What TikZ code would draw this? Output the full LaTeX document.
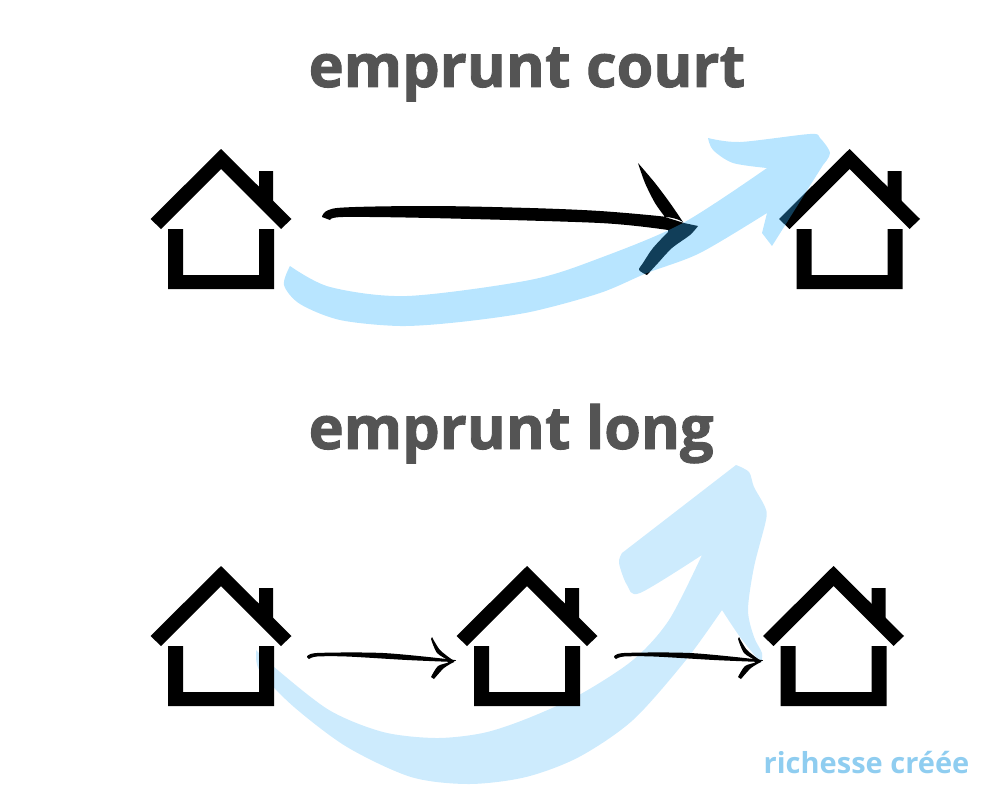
\documentclass[tikz,border=0pt]{standalone}
\usepackage{fontspec}
\setmainfont{Open Sans}
\newfontfamily\heavyfont[BoldFeatures={FakeBold=1.6}]{Open Sans}
\definecolor{titlegray}{HTML}{545454}
\definecolor{skyink}{RGB}{51,180,255}
\definecolor{palesky}{HTML}{CDEBFD}
\definecolor{labelsky}{HTML}{8FCDF0}
\tikzset{
  house/.pic={
    \fill (-70.5,70) -- (0,0) -- (70.5,70) -- (60,80) -- (0,20) -- (-60,80) -- cycle;
    \fill (38,22) -- (52,22) -- (52,62) -- (38,48) -- cycle;
    \fill (-53,80) -- (-38,80) -- (-38,126) -- (38,126) -- (38,80) -- (53,80) -- (53,140) -- (-53,140) -- cycle;
  },
  thinarrow/.pic={
    \fill plot [smooth] coordinates {(0,0) (10,-4) (76,-4) (144,2.5) (147,4)}
       -- plot [smooth] coordinates {(147,5) (100,3) (40,-.5) (10,-.5) (2,2)} -- cycle;
    \fill plot [smooth] coordinates {(125,-20) (133,-7) (147,4)}
       -- plot [smooth] coordinates {(147,5) (137,11) (127,22)}
       -- plot [smooth] coordinates {(124,20) (131,9) (142,4.5) (130,-4) (124,-18)} -- cycle;
  },
  titletext/.style={anchor=base west,inner sep=0pt,text=titlegray,font=\fontsize{16.9}{20}\heavyfont\bfseries},
  gaintext/.style={anchor=base west,inner sep=0pt,text=labelsky,font=\fontsize{8.25}{10}\bfseries}
}

\begin{document}
\begin{tikzpicture}[x=0.01cm,y=-0.01cm]
\useasboundingbox (0,0) rectangle (1000,800);
\coordinate (H1) at (221,149);
\coordinate (H2) at (849.5,149);
\coordinate (H3) at (221,566);
\coordinate (H4) at (527,566);
\coordinate (H5) at (833.5,566);

% Pale sweep behind the lower row
\fill [palesky] plot [smooth] coordinates {(256,650) (274,667) (329,710) (383,732) (436,738) (483,733) (526,719) (579,695) (633,660) (669,620) (702,555)}
   -- plot [smooth] coordinates {(702,555) (640,593) (627,585) (619,563) (622,553)}
   -- (736,465)
   -- plot [smooth] coordinates {(736,465) (749,472) (754,487) (765,507) (766,520) (754,567) (748,610) (754,637) (762,653) (761,663)}
   -- plot [smooth] coordinates {(761,663) (740,637) (722,610)}
   -- plot [smooth] coordinates {(722,610) (686,660) (633,720) (579,757) (526,777) (469,784) (411,777) (347,747) (294,707) (261,673) (256,657)} -- cycle;

% Houses
\path (H1) pic {house};
\path (H2) pic {house};
\path (H3) pic {house};
\path (H4) pic {house};
\path (H5) pic {house};

% Small arrows of the lower row
\path (307,657) pic {thinarrow};
\path (614,657) pic {thinarrow};

% Brush arrow of the upper row
\fill plot [smooth] coordinates {(322,217) (337,208) (430,206) (530,208) (600,211) (667,217) (683,222)}
   -- plot [smooth] coordinates {(683,222) (670,203) (655,183) (638,163)}
   -- plot [smooth] coordinates {(638,163) (645,183) (655,203) (665,217)}
   -- (684,223) -- (698,226)
   -- plot [smooth] coordinates {(698,226) (690,235) (672,248) (658,263) (647,275)}
   -- plot [smooth] coordinates {(647,275) (639,270) (643,263) (653,248) (668,232)}
   -- plot [smooth] coordinates {(668,230) (600,223) (430,218) (343,217) (330,220)} -- cycle;

% Tinted sweep over the upper row, so the black shows through
\fill [skyink,opacity=0.35] plot [smooth] coordinates {(290,266) (330,287) (407,296) (530,280) (600,258) (683,223) (767,168)}
   -- plot [smooth] coordinates {(767,168) (733,163) (713,150) (708,138)}
   -- plot [smooth] coordinates {(708,138) (740,142) (810,134) (820,138) (830,153) (823,165)}
   -- (772,246) -- (762,233) -- (767,213)
   -- plot [smooth] coordinates {(767,213) (700,253) (647,273) (600,293) (530,312) (460,322) (400,326) (340,320) (300,304) (284,285) (290,266)} -- cycle;

% Labels
\node [titletext] (shortloan) at (308,87) {emprunt court};
\node [titletext] (longloan) at (308,449) {emprunt long};
\node [gaintext] (gain) at (763,773) {richesse créée};
\end{tikzpicture}
\end{document}
